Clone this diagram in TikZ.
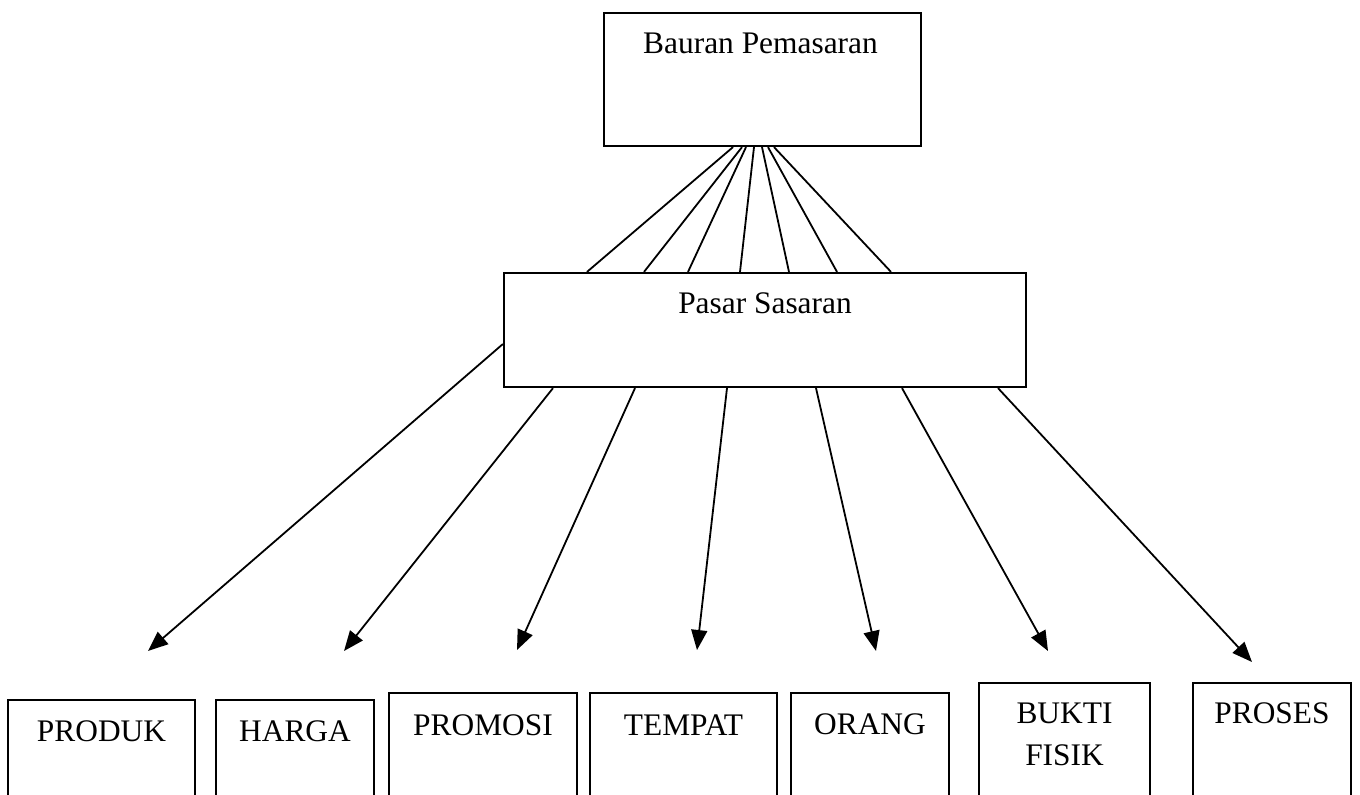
\documentclass[tikz,border=0pt]{standalone}
\usepackage{fontspec}
\setmainfont{Liberation Serif}
\usetikzlibrary{arrows.meta,calc,fit}
\begin{document}
\begin{tikzpicture}[x=0.5pt,y=-0.5pt,
  box/.style={draw,line width=1.1pt,inner sep=0pt},
  lbl/.style={anchor=base,font=\fontsize{15.7}{21}\selectfont,inner sep=0pt,align=center},
  conn/.style={line width=0.9pt},
  arr/.style={conn,-{Triangle[length=10pt,width=8pt]}}]
\useasboundingbox (0,0) rectangle (1360,794);
\clip (0,0) rectangle (1360,794);
% boxes
\node[box,fit={(604,13) (921,146)}] (top) {};
\node[box,fit={(504,273) (1026,387)}] (pasar) {};
\node[box,fit={(8,700) (195,840)}] (b1) {};
\node[box,fit={(216,700) (374,840)}] (b2) {};
\node[box,fit={(389,693) (577,840)}] (b3) {};
\node[box,fit={(590,693) (777,840)}] (b4) {};
\node[box,fit={(791,693) (949,840)}] (b5) {};
\node[box,fit={(979,683) (1150,840)}] (b6) {};
\node[box,fit={(1193,683) (1351,840)}] (b7) {};
% labels
\node[lbl] (ttop) at ($(top.north)+(-2,42)$) {Bauran Pemasaran};
\node[lbl] (tpasar) at ($(pasar.north)+(0,42)$) {Pasar Sasaran};
\node[lbl] (t1) at ($(b1.north)+(0,43)$) {PRODUK};
\node[lbl] (t2) at ($(b2.north)+(0,43)$) {HARGA};
\node[lbl] (t3) at ($(b3.north)+(0,44)$) {PROMOSI};
\node[lbl] (t4) at ($(b4.north)+(0,44)$) {TEMPAT};
\node[lbl] (t5) at ($(b5.north)+(0,43)$) {ORANG};
\node[lbl] (t6) at ($(b6.north)+(0,84)$) {BUKTI\\FISIK};
\node[lbl] (t7) at ($(b7.north)+(0,42)$) {PROSES};
% fan connectors
\draw[conn] ($(top.south)+(-29.5,0)$) -- ($(pasar.north)+(-178,0)$);
\draw[conn] ($(top.south)+(-20.5,0)$) -- ($(pasar.north)+(-121,0)$);
\draw[conn] ($(top.south)+(-16.5,0)$) -- ($(pasar.north)+(-77,0)$);
\draw[conn] ($(top.south)+(-8.5,0)$) -- ($(pasar.north)+(-25,0)$);
\draw[conn] ($(top.south)+(-0.5,0)$) -- ($(pasar.north)+(24,0)$);
\draw[conn] ($(top.south)+(5.5,0)$) -- ($(pasar.north)+(72,0)$);
\draw[conn] ($(top.south)+(11.5,0)$) -- ($(pasar.north)+(126,0)$);
% arrow end points
\coordinate (e1) at (148,651);
\coordinate (e2) at (344,651);
\coordinate (e3) at (517,650);
\coordinate (e4) at (697,650);
\coordinate (e5) at (876,651);
\coordinate (e6) at (1048,651);
\coordinate (e7) at (1252,662);
\draw[arr] ($(pasar.west)+(0,14)$) -- (e1);
\draw[arr] ($(pasar.south)+(-212,0)$) -- (e2);
\draw[arr] ($(pasar.south)+(-130,0)$) -- (e3);
\draw[arr] ($(pasar.south)+(-38,0)$) -- (e4);
\draw[arr] ($(pasar.south)+(51,0)$) -- (e5);
\draw[arr] ($(pasar.south)+(137,0)$) -- (e6);
\draw[arr] ($(pasar.south)+(233,0)$) -- (e7);
\end{tikzpicture}
\end{document}
